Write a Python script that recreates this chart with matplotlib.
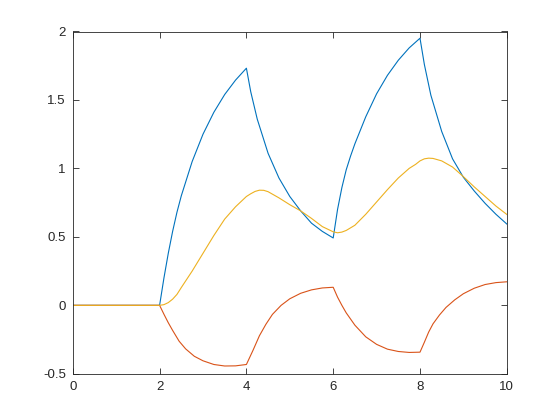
import matplotlib
matplotlib.use("Agg")
import matplotlib.pyplot as plt

plt.rcParams['font.family'] = ['Liberation Sans', 'DejaVu Sans']

# values, square input switching at t = 2, 4, 6, 8
t_blue = [0, 2.0, 2.1, 2.2, 2.3, 2.4, 2.5, 2.75, 3.0, 3.25, 3.5, 3.75, 4.0,
          4.1, 4.25, 4.5, 4.75, 5.0, 5.25, 5.5, 5.75, 6.0,
          6.1, 6.2, 6.3, 6.4, 6.5, 6.75, 7.0, 7.25, 7.5, 7.75, 8.0,
          8.1, 8.25, 8.5, 8.75, 9.0, 9.25, 9.5, 9.75, 10.0]
blue = [0, 0, 0.2, 0.38, 0.54, 0.68, 0.8, 1.05, 1.25, 1.41, 1.54, 1.645, 1.732,
        1.56, 1.36, 1.11, 0.93, 0.795, 0.69, 0.60, 0.54, 0.492,
        0.70, 0.86, 0.99, 1.09, 1.18, 1.377, 1.545, 1.68, 1.79, 1.88, 1.951,
        1.76, 1.535, 1.27, 1.07, 0.935, 0.835, 0.745, 0.665, 0.594]

t_red = [0, 2.0, 2.1, 2.2, 2.3, 2.45, 2.6, 2.8, 3.0, 3.25, 3.5, 3.75, 4.0,
         4.15, 4.3, 4.45, 4.6, 4.8, 5.0, 5.25, 5.5, 5.75, 6.0,
         6.1, 6.2, 6.3, 6.5, 6.75, 7.0, 7.25, 7.5, 7.75, 8.0,
         8.1, 8.2, 8.3, 8.45, 8.6, 8.8, 9.0, 9.25, 9.5, 9.75, 10.0]
red = [0, 0, -0.065, -0.127, -0.183, -0.262, -0.318, -0.372, -0.405, -0.432, -0.443, -0.442, -0.432,
       -0.33, -0.222, -0.138, -0.066, 0.0, 0.048, 0.088, 0.113, 0.127, 0.132,
       0.06, 0.0, -0.055, -0.145, -0.23, -0.285, -0.32, -0.337, -0.344, -0.342,
       -0.27, -0.195, -0.135, -0.07, -0.015, 0.04, 0.085, 0.125, 0.152, 0.166, 0.172]

t_yel = [0, 2.0, 2.1, 2.2, 2.3, 2.4, 2.5, 2.75, 3.0, 3.25, 3.5, 3.75, 4.0,
         4.1, 4.2, 4.3, 4.4, 4.5, 4.75, 5.0, 5.25, 5.5, 5.75, 6.0,
         6.1, 6.2, 6.3, 6.5, 6.75, 7.0, 7.25, 7.5, 7.75, 7.9, 8.0,
         8.1, 8.2, 8.3, 8.5, 8.75, 9.0, 9.25, 9.5, 9.75, 10.0]
yel = [0, 0, 0.005, 0.02, 0.045, 0.08, 0.13, 0.25, 0.38, 0.51, 0.63, 0.72, 0.795,
       0.815, 0.832, 0.841, 0.84, 0.83, 0.785, 0.735, 0.69, 0.635, 0.575, 0.537,
       0.530, 0.535, 0.547, 0.585, 0.665, 0.755, 0.845, 0.93, 1.0, 1.03, 1.055,
       1.07, 1.075, 1.073, 1.055, 1.01, 0.94, 0.865, 0.795, 0.725, 0.664]

xticks = [0, 2, 4, 6, 8, 10]
yticks = [-0.5, 0, 0.5, 1, 1.5, 2]
ytick_labels = ['-0.5', '0', '0.5', '1', '1.5', '2']

fig = plt.figure(figsize=(5.6, 4.2), dpi=100)
ax = fig.add_axes([0.13, 0.11, 0.775, 0.815])

ax.plot(t_blue, blue, color='#0072BD', lw=0.8)
ax.plot(t_red, red, color='#D95319', lw=0.8)
ax.plot(t_yel, yel, color='#EDB120', lw=0.8)

ax.set_xlim(0, 10)
ax.set_ylim(-0.5, 2)
ax.set_xticks(xticks)
ax.set_yticks(yticks)
ax.set_yticklabels(ytick_labels)

for s in ax.spines.values():
    s.set_color('#262626')
    s.set_linewidth(0.6)
ax.tick_params(direction='in', length=4, width=0.6, colors='#262626',
               labelsize=9.5, top=True, right=True, pad=5)

fig.savefig('out.png', dpi=100, facecolor='white')
